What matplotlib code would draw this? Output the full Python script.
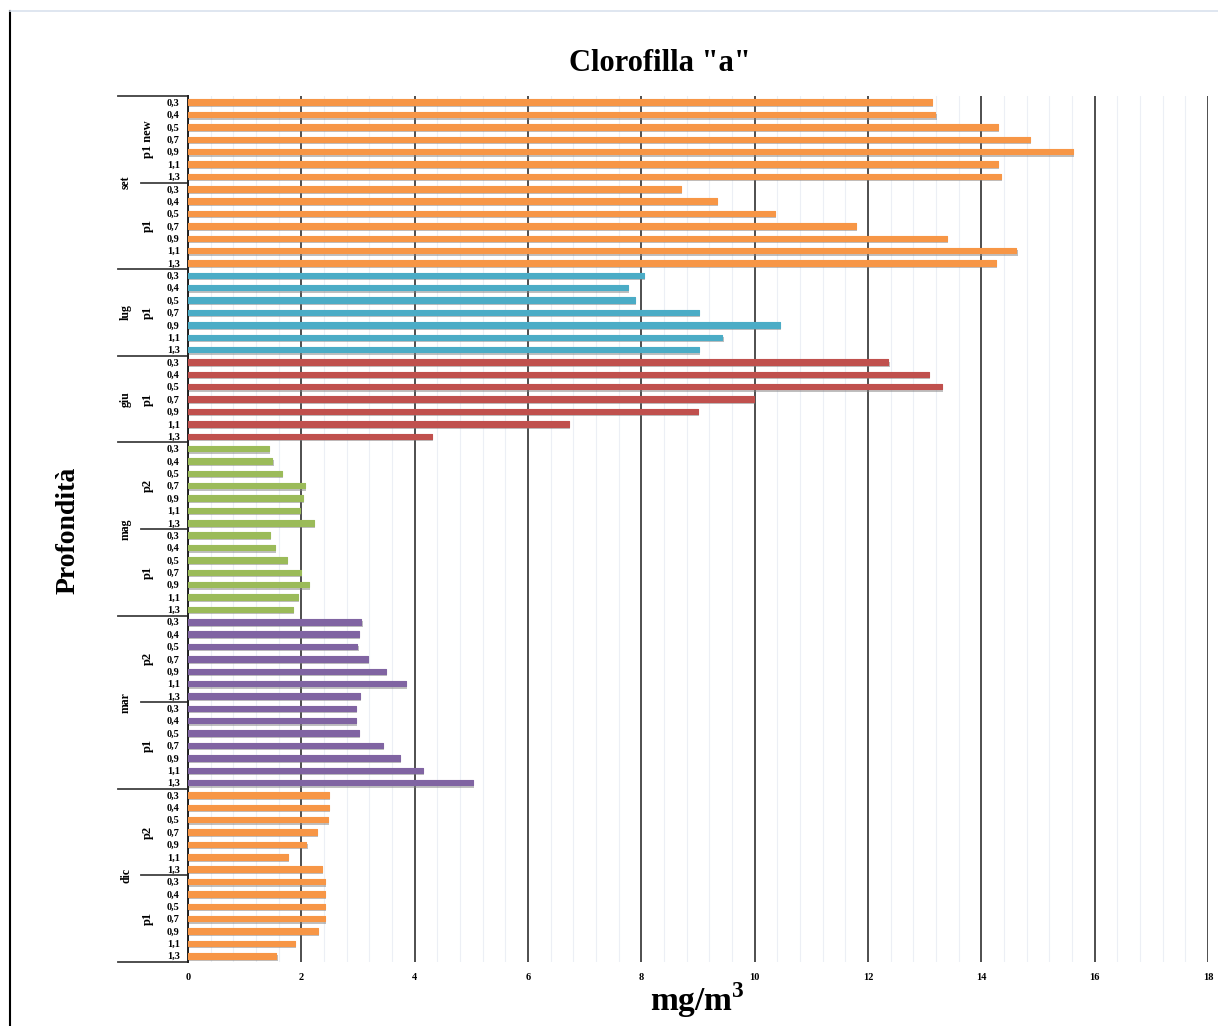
import matplotlib
matplotlib.use("Agg")
import matplotlib.pyplot as plt
import matplotlib.patheffects as pe
from matplotlib.lines import Line2D
from matplotlib.ticker import MultipleLocator
from matplotlib.transforms import blended_transform_factory


DEPTHS = ["0,3", "0,4", "0,5", "0,7", "0,9", "1,1", "1,3"]

# groups from top to bottom
MONTHS = ["set", "set", "lug", "giu", "mag", "mag", "mar", "mar", "dic", "dic"]
STATIONS = ["p1 new", "p1", "p1", "p1", "p2", "p1", "p2", "p1", "p2", "p1"]

SET_P1_NEW = [13.13, 13.19, 14.30, 14.86, 15.62, 14.29, 14.35]
SET_P1 = [8.70, 9.33, 10.36, 11.79, 13.39, 14.62, 14.25]
LUG_P1 = [8.05, 7.76, 7.89, 9.01, 10.45, 9.43, 9.01]
GIU_P1 = [12.36, 13.08, 13.31, 9.99, 9.00, 6.72, 4.30]
MAG_P2 = [1.43, 1.49, 1.66, 2.07, 2.02, 1.97, 2.22]
MAG_P1 = [1.45, 1.54, 1.75, 2.00, 2.14, 1.94, 1.85]
MAR_P2 = [3.06, 3.01, 2.99, 3.18, 3.49, 3.85, 3.04]
MAR_P1 = [2.97, 2.97, 3.02, 3.44, 3.74, 4.14, 5.03]
DIC_P2 = [2.48, 2.48, 2.47, 2.27, 2.09, 1.76, 2.37]
DIC_P1 = [2.41, 2.41, 2.42, 2.41, 2.29, 1.89, 1.56]

GROUP_VALUES = [SET_P1_NEW, SET_P1, LUG_P1, GIU_P1, MAG_P2,
                MAG_P1, MAR_P2, MAR_P1, DIC_P2, DIC_P1]

MONTH_COLORS = {
    "set": "#F79646",
    "lug": "#4BACC6",
    "giu": "#C0504D",
    "mag": "#9BBB59",
    "mar": "#8064A2",
    "dic": "#F79646",
}

SERIF = "Liberation Serif"
LINE_COL = "#404040"


def main():
    fig = plt.figure(figsize=(12.18, 10.26), dpi=100)
    ax = fig.add_axes([0.1544, 0.0624, 0.8374, 0.8440])

    n = len(DEPTHS)
    shadow = [pe.SimplePatchShadow(offset=(0.8, -1.6), shadow_rgbFace="#808080", alpha=0.5),
              pe.Normal()]
    for g, vals in enumerate(GROUP_VALUES):
        ys = [g * n + i for i in range(n)]
        col = MONTH_COLORS[MONTHS[g]]
        ax.barh(ys, vals, height=0.44, color=col, edgecolor=col, lw=0.8,
                joinstyle="round", path_effects=shadow, zorder=3)

    total = n * len(GROUP_VALUES)
    ax.set_ylim(total - 0.5, -0.5)
    ax.set_xlim(0, 18)

    ax.set_yticks(range(total))
    ax.set_yticklabels(DEPTHS * len(GROUP_VALUES))
    ax.tick_params(axis="y", length=0, pad=6)
    for lab in ax.get_yticklabels():
        lab.set_fontfamily(SERIF)
        lab.set_fontweight("bold")
        lab.set_fontsize(7.5)

    ax.xaxis.set_major_locator(MultipleLocator(2))
    ax.xaxis.set_minor_locator(MultipleLocator(0.4))
    ax.tick_params(axis="x", which="both", length=0, pad=8)
    for lab in ax.get_xticklabels():
        lab.set_fontfamily(SERIF)
        lab.set_fontweight("bold")
        lab.set_fontsize(7.5)

    ax.grid(axis="x", which="major", color=LINE_COL, lw=1.3, zorder=1)
    ax.grid(axis="x", which="minor", color="#eceff5", lw=0.8, zorder=0)
    ax.grid(axis="y", visible=False)
    ax.set_axisbelow(True)

    for side in ["top", "right", "bottom"]:
        ax.spines[side].set_visible(False)
    ax.spines["left"].set_color("#202020")
    ax.spines["left"].set_linewidth(1.4)

    # hierarchical category labels
    trans = blended_transform_factory(ax.transAxes, ax.transData)
    x_long, x_short = -0.0686, -0.0461
    x_month, x_station = -0.0608, -0.0392

    for g, station in enumerate(STATIONS):
        top = g * n - 0.5
        mid = top + n / 2
        ax.text(x_station, mid, station, transform=trans, rotation=90,
                ha="center", va="center", fontsize=9, fontweight="bold",
                family=SERIF)
        if g > 0 and MONTHS[g] == MONTHS[g - 1]:
            ax.plot([x_short, 0], [top, top], transform=trans, color=LINE_COL,
                    lw=1.3, clip_on=False)

    start = 0
    for g in range(1, len(MONTHS) + 1):
        if g == len(MONTHS) or MONTHS[g] != MONTHS[start]:
            top = start * n - 0.5
            bottom = g * n - 0.5
            ax.text(x_month, (top + bottom) / 2, MONTHS[start], transform=trans,
                    rotation=90, ha="center", va="center", fontsize=8.5,
                    fontweight="bold", family=SERIF)
            ax.plot([x_long, 0], [top, top], transform=trans, color=LINE_COL,
                    lw=1.3, clip_on=False)
            start = g
    ax.plot([x_long, 0], [total - 0.5, total - 0.5], transform=trans,
            color=LINE_COL, lw=1.3, clip_on=False)

    fig.text(0.5420, 0.9385, 'Clorofilla "a"', ha="center", va="center",
             fontsize=22, fontweight="bold", family=SERIF)
    fig.text(0.5725, 0.0255, "mg/m$^\\mathbf{3}$", ha="center", va="center",
             fontsize=24, fontweight="bold", family=SERIF)
    fig.text(0.0558, 0.4835, "Profondità", ha="center", va="center",
             rotation=90, fontsize=20, fontweight="bold", family=SERIF)

    # chart-area border pieces
    fig.add_artist(Line2D([0.0082, 0.0082], [0.0, 0.9893], color="black", lw=1.5))
    fig.add_artist(Line2D([0.0082, 1.0], [0.9893, 0.9893], color="#d9e1ee", lw=1.2))

    fig.savefig("out.png", dpi=100)
    plt.close(fig)


if __name__ == "__main__":
    plt.rcParams["mathtext.fontset"] = "custom"
    plt.rcParams["mathtext.rm"] = SERIF
    plt.rcParams["mathtext.bf"] = SERIF + ":bold"
    main()
